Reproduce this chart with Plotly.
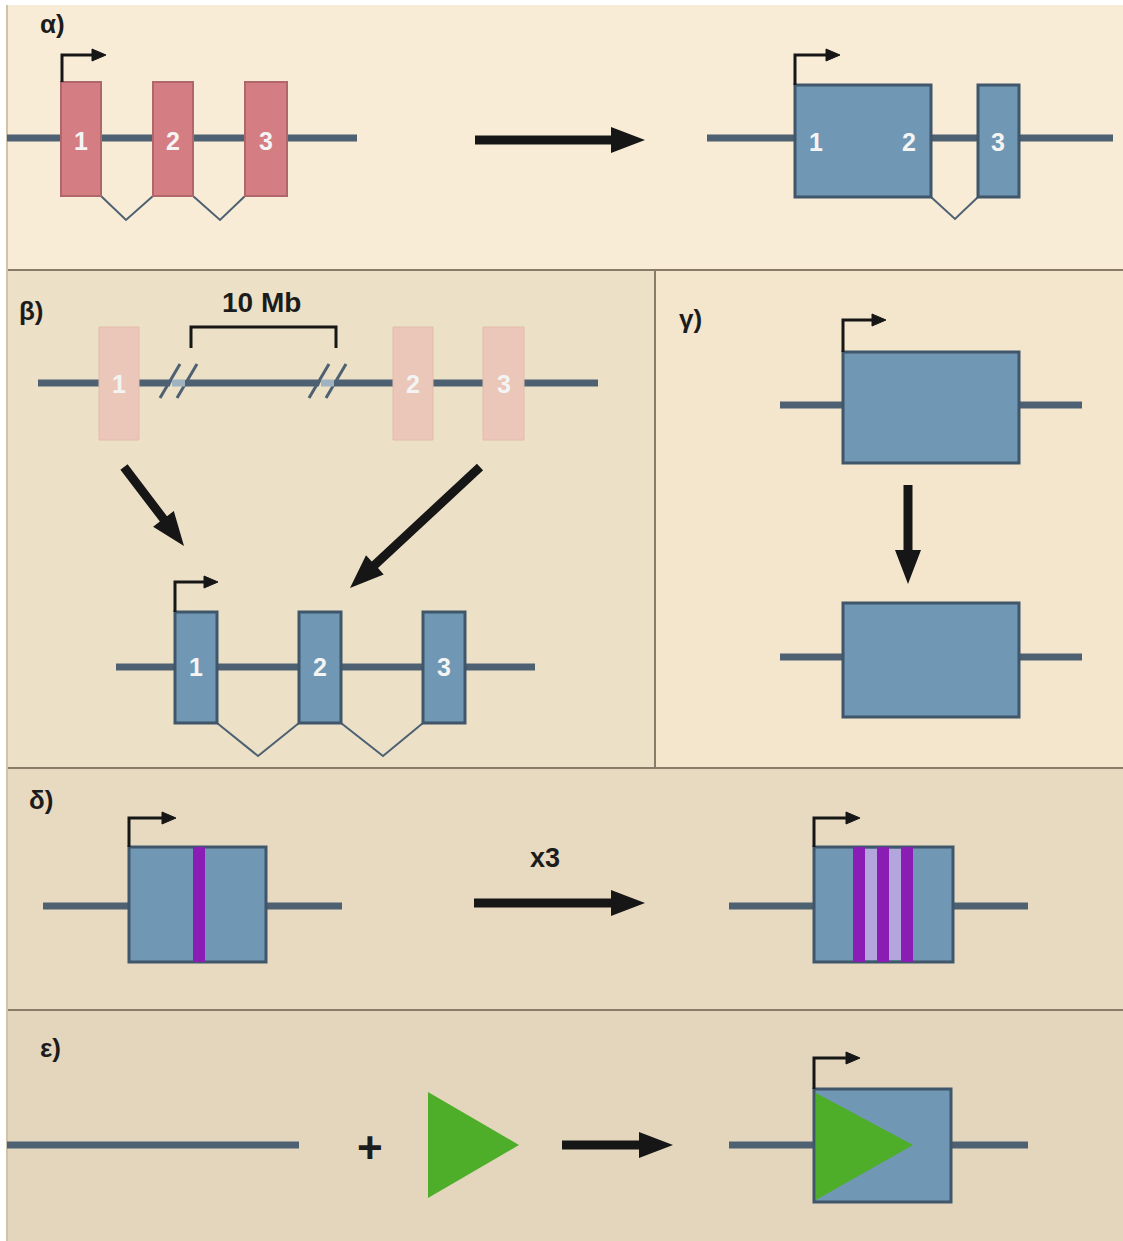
import math
import plotly.graph_objects as go

W, H = 1123, 1241

# ---------------- data (diagram elements, pixel coordinates) ----------------
panel_labels = ["α)", "β)", "γ)", "δ)", "ε)"]
panel_label_x = [52, 31, 690, 41, 50]
panel_label_y = [24, 311, 319, 800, 1048]
panel_x0 = [7, 7, 655, 7, 7]
panel_x1 = [1123, 655, 1123, 1123, 1123]
panel_y0 = [5, 270, 270, 768, 1010]
panel_y1 = [270, 768, 768, 1010, 1241]
panel_bg = ["#f9ecd6", "#ece0c7", "#f3e6cd", "#e7dac0", "#e3d6bd"]

gene_x0 = [7, 707, 38, 116, 780, 780, 43, 729, 7, 729]
gene_x1 = [357, 1113, 598, 535, 1082, 1082, 342, 1028, 299, 1028]
gene_y = [138, 138, 383, 667, 405, 657, 906, 906, 1145, 1145]

exon_x0 = [61, 153, 245, 795, 978, 99, 393, 483, 175, 299, 423, 843, 843, 129, 814, 814]
exon_x1 = [101, 193, 287, 931, 1019, 139, 433, 524, 217, 341, 465, 1019, 1019, 266, 953, 951]
exon_y0 = [82, 82, 82, 85, 85, 327, 327, 327, 612, 612, 612, 352, 603, 847, 847, 1089]
exon_y1 = [196, 196, 196, 197, 197, 440, 440, 440, 723, 723, 723, 463, 717, 962, 962, 1202]
exon_kind = ["pink", "pink", "pink", "blue", "blue", "faded", "faded", "faded",
             "blue", "blue", "blue", "blue", "blue", "blue", "blue", "blue"]

num_text = ["1", "2", "3", "1", "2", "3", "1", "2", "3", "1", "2", "3"]
num_x = [81, 173, 266, 816, 909, 998, 119, 413, 504, 196, 320, 444]
num_y = [141, 141, 141, 142, 142, 142, 384, 384, 384, 667, 667, 667]

splice_xa = [101, 193, 931, 217, 341]
splice_xm = [126, 220, 955, 258, 383]
splice_xb = [153, 245, 978, 299, 423]
splice_top = [196, 196, 197, 723, 723]
splice_bot = [220, 220, 219, 756, 756]

prom_x = [62, 795, 175, 843, 129, 814, 814]
prom_base = [82, 85, 612, 352, 847, 847, 1089]
prom_top = [55, 55, 582, 320, 818, 818, 1058]
prom_end = [106, 840, 218, 886, 176, 860, 860]

arrow_x0 = [475, 124, 480, 908, 474, 562]
arrow_y0 = [140, 467, 467, 485, 903, 1145]
arrow_x1 = [645, 184, 350, 908, 645, 673]
arrow_y1 = [140, 546, 588, 584, 903, 1145]

stripe_x = [199, 859, 883, 907]
stripe_y0 = [847, 847, 847, 847]
stripe_y1 = [962, 962, 962, 962]

tri_x = [(428, 428, 519), (816, 816, 913)]
tri_y = [(1092, 1198, 1145), (1093, 1200, 1145)]

breaks_x = [(160, 197), (309, 346)]
break_y = 383

bracket_x0, bracket_x1, bracket_top, bracket_bot = 191, 336, 327, 348
extra_text = ["10 Mb", "x3", "+"]
extra_x = [261, 545, 370]
extra_y = [302, 858, 1147]
extra_size = [28, 27, 44]

# ---------------- styles ----------------
LINE_C = "#4e6173"
BLUE_F = "#7097b3"
BLUE_E = "#3f566b"
PINK_F = "#d47d83"
PINK_E = "#b0676c"
FADED_F = "#ebc7b9"
PURPLE = "#8a1db3"
GREEN = "#4eae2a"
BLACK = "#161616"
BORDER = "#8a7b69"
FONT = "Liberation Sans, Arial, sans-serif"

shapes = []
annotations = []

# panel backgrounds
for x0, x1, y0, y1, c in zip(panel_x0, panel_x1, panel_y0, panel_y1, panel_bg):
    shapes.append(dict(type="rect", x0=x0, x1=x1, y0=y0, y1=y1, fillcolor=c,
                       line=dict(width=0), layer="below"))
# separators
for yy in [270, 768, 1010]:
    shapes.append(dict(type="line", x0=7, x1=W, y0=yy, y1=yy, line=dict(color=BORDER, width=2)))
shapes.append(dict(type="line", x0=655, x1=655, y0=270, y1=768, line=dict(color=BORDER, width=2)))
shapes.append(dict(type="line", x0=7, x1=7, y0=5, y1=H, line=dict(color="#cfc3ae", width=2)))

# gene lines
for x0, x1, y in zip(gene_x0, gene_x1, gene_y):
    shapes.append(dict(type="line", x0=x0, x1=x1, y0=y, y1=y, line=dict(color=LINE_C, width=7)))

# breaks on beta line
for bx0, bx1 in breaks_x:
    shapes.append(dict(type="path",
                       path=f"M{bx0+5},{break_y+15} L{bx0+19},{break_y-19} L{bx1-5},{break_y-19} L{bx1-19},{break_y+15} Z",
                       fillcolor=panel_bg[1], line=dict(width=0)))
    shapes.append(dict(type="line", x0=bx0, y0=break_y + 15, x1=bx0 + 20, y1=break_y - 19,
                       line=dict(color=LINE_C, width=3)))
    shapes.append(dict(type="line", x0=bx1 - 20, y0=break_y + 15, x1=bx1, y1=break_y - 19,
                       line=dict(color=LINE_C, width=3)))
    shapes.append(dict(type="line", x0=bx0 + 12, y0=break_y, x1=bx1 - 12, y1=break_y,
                       line=dict(color="#9fb2c0", width=7)))

# bracket
shapes.append(dict(type="path",
                   path=f"M{bracket_x0},{bracket_bot} L{bracket_x0},{bracket_top} L{bracket_x1},{bracket_top} L{bracket_x1},{bracket_bot}",
                   line=dict(color=BLACK, width=3)))

# splice V lines
for xa, xm, xb, yt, yb in zip(splice_xa, splice_xm, splice_xb, splice_top, splice_bot):
    shapes.append(dict(type="path", path=f"M{xa},{yt} L{xm},{yb} L{xb},{yt}",
                       line=dict(color=LINE_C, width=2)))

# exons
for x0, x1, y0, y1, k in zip(exon_x0, exon_x1, exon_y0, exon_y1, exon_kind):
    if k == "pink":
        fc, lc, lw = PINK_F, PINK_E, 2
    elif k == "faded":
        fc, lc, lw = FADED_F, "#e3bcae", 1
    else:
        fc, lc, lw = BLUE_F, BLUE_E, 3
    shapes.append(dict(type="rect", x0=x0, x1=x1, y0=y0, y1=y1, fillcolor=fc,
                       line=dict(color=lc, width=lw)))

# lighter gaps between the three stripes
shapes.append(dict(type="rect", x0=853, x1=913, y0=849, y1=960, fillcolor="#b2a6dc",
                   line=dict(width=0)))
# purple stripes
for sx, y0, y1 in zip(stripe_x, stripe_y0, stripe_y1):
    shapes.append(dict(type="rect", x0=sx - 6, x1=sx + 6, y0=y0, y1=y1, fillcolor=PURPLE,
                       line=dict(width=0)))

# green triangles
for tx, ty in zip(tri_x, tri_y):
    shapes.append(dict(type="path",
                       path=f"M{tx[0]},{ty[0]} L{tx[1]},{ty[1]} L{tx[2]},{ty[2]} Z",
                       fillcolor=GREEN, line=dict(width=0)))

# promoter arrows
for x, yb, yt, xe in zip(prom_x, prom_base, prom_top, prom_end):
    shapes.append(dict(type="path", path=f"M{x},{yb} L{x},{yt} L{xe-12},{yt}",
                       line=dict(color=BLACK, width=3)))
    shapes.append(dict(type="path", path=f"M{xe-14},{yt-6} L{xe},{yt} L{xe-14},{yt+6} Z",
                       fillcolor=BLACK, line=dict(color=BLACK, width=1)))

# big arrows
for x0, y0, x1, y1 in zip(arrow_x0, arrow_y0, arrow_x1, arrow_y1):
    L = math.hypot(x1 - x0, y1 - y0)
    ux, uy = (x1 - x0) / L, (y1 - y0) / L
    px, py = -uy, ux
    hl, hw, sw = 34, 13, 4.5
    bx, by = x1 - ux * hl, y1 - uy * hl
    pts = [
        (x0 + px * sw, y0 + py * sw), (bx + px * sw, by + py * sw),
        (bx + px * hw, by + py * hw), (x1, y1),
        (bx - px * hw, by - py * hw), (bx - px * sw, by - py * sw),
        (x0 - px * sw, y0 - py * sw),
    ]
    path = "M" + " L".join(f"{a:.1f},{b:.1f}" for a, b in pts) + " Z"
    shapes.append(dict(type="path", path=path, fillcolor=BLACK, line=dict(width=0)))

# text
for t, x, y in zip(panel_labels, panel_label_x, panel_label_y):
    annotations.append(dict(x=x, y=y, text=f"<b>{t}</b>", showarrow=False,
                            font=dict(family=FONT, size=26, color="#1c1c1c")))
for t, x, y in zip(num_text, num_x, num_y):
    annotations.append(dict(x=x, y=y, text=f"<b>{t}</b>", showarrow=False,
                            font=dict(family=FONT, size=25, color="#f4f4f4")))
for t, x, y, s in zip(extra_text, extra_x, extra_y, extra_size):
    annotations.append(dict(x=x, y=y, text=f"<b>{t}</b>", showarrow=False,
                            font=dict(family=FONT, size=s, color="#1c1c1c")))

fig = go.Figure()
fig.add_trace(go.Scatter(x=[0, W], y=[0, H], mode="markers", marker=dict(opacity=0),
                         hoverinfo="skip", showlegend=False))
fig.update_layout(
    width=W, height=H, margin=dict(l=0, r=0, t=0, b=0),
    paper_bgcolor="white", plot_bgcolor="white",
    xaxis=dict(range=[0, W], visible=False, fixedrange=True),
    yaxis=dict(range=[H, 0], visible=False, fixedrange=True),
    shapes=shapes, annotations=annotations, showlegend=False,
)
fig.write_html("out.html", config={"displayModeBar": False},
               post_script="document.body.style.margin='0';document.body.style.overflow='hidden';")
